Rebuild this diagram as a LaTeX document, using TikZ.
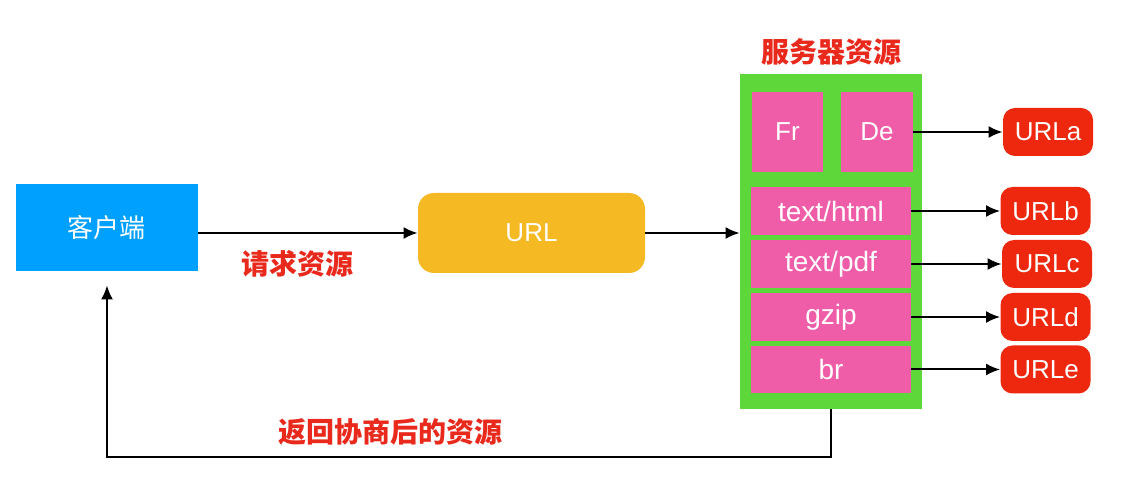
\documentclass[tikz,border=0pt]{standalone}
\usepackage{fontspec}
\setmainfont{Liberation Sans}
\newfontfamily\cjk{Noto Sans CJK SC}
\usetikzlibrary{arrows.meta}
\definecolor{clientblue}{RGB}{0,160,254}
\definecolor{urlyellow}{RGB}{245,185,35}
\definecolor{servergreen}{RGB}{93,215,58}
\definecolor{itempink}{RGB}{239,93,168}
\definecolor{urlred}{RGB}{238,40,14}
\definecolor{labelred}{RGB}{232,41,28}
\begin{document}
\begin{tikzpicture}[x=0.5pt, y=-0.5pt,
	box/.style={inner sep=0pt, text=white, font=\fontsize{13pt}{15pt}\selectfont},
	item/.style={box, fill=itempink, minimum width=80pt, font=\fontsize{14pt}{16pt}\selectfont},
	urlbox/.style={box, fill=urlred, rounded corners=6pt, minimum width=45pt, minimum height=24pt},
	redlabel/.style={text=labelred, font=\cjk\bfseries\fontsize{14pt}{16pt}\selectfont},
	link/.style={line width=1pt, -{Latex[length=7pt, width=6pt]}}]
	\useasboundingbox (0,0) rectangle (1141,491);

	\node[box, fill=clientblue, minimum width=91pt, minimum height=43.5pt, font=\cjk\fontsize{13pt}{15pt}\selectfont] at (107,227.5) (client) {客户端};
	\node[box, fill=urlyellow, rounded corners=8pt, minimum width=113.5pt, minimum height=40pt] at (531.5,233) (url) {URL};
	\node[fill=servergreen, inner sep=0pt, minimum width=91pt, minimum height=167.5pt] at (831,241.5) (server) {};
	\node[redlabel] at (831,52) (title) {服务器资源};

	\node[box, fill=itempink, minimum width=35.5pt, minimum height=40pt] at (787.5,132) (fr) {Fr};
	\node[box, fill=itempink, minimum width=36pt, minimum height=40pt] at (877,132) (de) {De};
	\node[item, minimum height=24pt] at (831,211) (html) {text/html};
	\node[item, minimum height=24pt] at (831,264) (pdf) {text/pdf};
	\node[item, minimum height=24pt] at (831,317) (gzip) {gzip};
	\node[item, minimum height=23.5pt] at (831,369.5) (br) {br};

	\node[urlbox] at (1048,132) (urla) {URLa};
	\node[urlbox] at (1045.5,211) (urlb) {URLb};
	\node[urlbox] at (1047,264) (urlc) {URLc};
	\node[urlbox] at (1045.5,317) (urld) {URLd};
	\node[urlbox] at (1045.5,369.5) (urle) {URLe};

	\node[redlabel] at (297,264) (ask) {请求资源};
	\node[redlabel] at (390,432) (reply) {返回协商后的资源};
	\coordinate (back) at (107,457);

	\draw[link] (client.east |- url.west) -- (url.west);
	\draw[link] (url.east) -- (url.east -| server.west);
	\draw[link] (de) -- (urla);
	\draw[link] (html) -- (urlb);
	\draw[link] (pdf) -- (urlc);
	\draw[link] (gzip) -- (urld);
	\draw[link] (br) -- (urle);
	\draw[link, shorten >=7pt] (server.south) |- (back) -- (client.south);
\end{tikzpicture}
\end{document}
